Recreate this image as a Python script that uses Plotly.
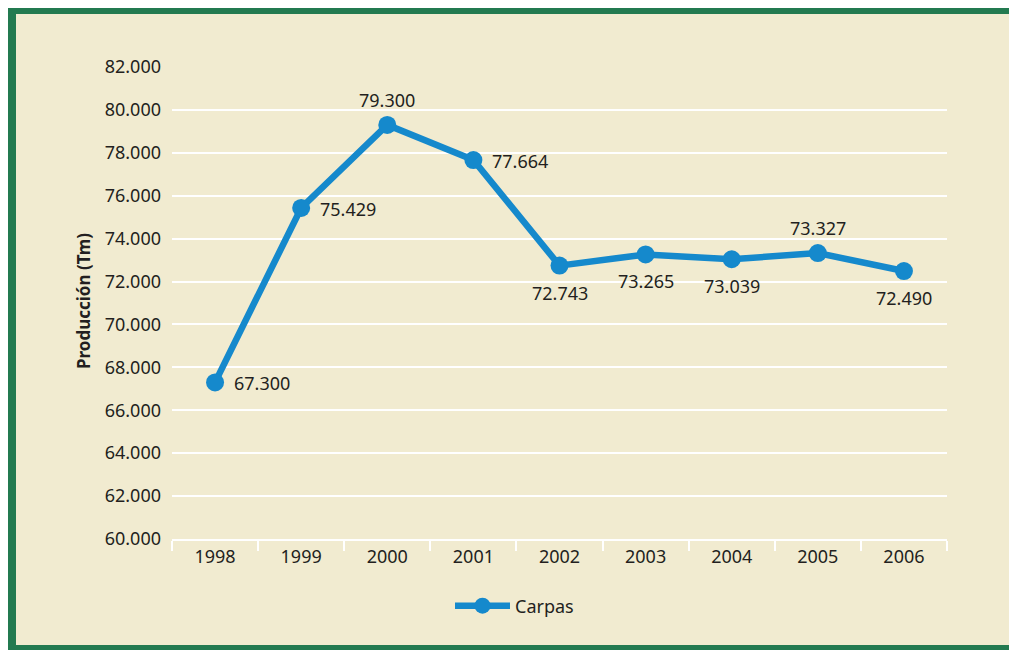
import plotly.graph_objects as go

years = ["1998", "1999", "2000", "2001", "2002", "2003", "2004", "2005", "2006"]
carpas = [67300, 75429, 79300, 77664, 72743, 73265, 73039, 73327, 72490]
label_side = ["right", "right", "top", "right", "bottom", "bottom", "bottom", "top", "bottom"]
y_ticks = [60000, 62000, 64000, 66000, 68000, 70000, 72000, 74000, 76000, 78000, 80000, 82000]

# page is offset by the default 8px body margin
OFF = 8
W, H = 1017 - OFF, 650 - OFF
L, R, T, B = 172 - OFF, 947 - OFF, 67 - OFF, 539 - OFF
pw, ph = R - L, B - T

def px_x(x):
    return (x - OFF - L) / pw

def px_y(y):
    return (B - (y - OFF)) / ph

BG = "#f1ebd0"
BLUE = "#1589cc"
TXT = "#231f20"
FONT = "Noto Sans"

fig = go.Figure()
fig.add_trace(go.Scatter(
    x=years, y=carpas, name="Carpas", mode="lines+markers",
    line=dict(color=BLUE, width=6.5),
    marker=dict(color=BLUE, size=18),
    cliponaxis=False,
))

side_style = {
    "right": dict(xanchor="left", yanchor="middle", xshift=17, yshift=-1),
    "top": dict(xanchor="center", yanchor="middle", xshift=0, yshift=25),
    "bottom": dict(xanchor="center", yanchor="middle", xshift=0, yshift=-27),
}

annotations = []
for i, (v, side) in enumerate(zip(carpas, label_side)):
    annotations.append(dict(
        x=i, y=v, xref="x", yref="y", text=f"{v:,}".replace(",", "."),
        showarrow=False, font=dict(family=FONT, size=18, color=TXT), **side_style[side]))

annotations.append(dict(text="<b>Producción (Tm)</b>", xref="paper", yref="paper",
                        x=px_x(83), y=px_y(301), textangle=-90, showarrow=False,
                        xanchor="center", yanchor="middle",
                        font=dict(family=FONT, size=17, color=TXT)))

fig.update_layout(
    width=W, height=H, autosize=False,
    margin=dict(l=L, r=W - R, t=T, b=H - B, pad=0),
    paper_bgcolor=BG, plot_bgcolor=BG,
    separators=",.",
    font=dict(family=FONT, size=18, color=TXT),
    showlegend=True,
    legend=dict(orientation="h", x=px_x(450), xanchor="left", y=px_y(606), yanchor="middle",
                itemwidth=55, font=dict(family=FONT, size=18, color=TXT),
                bgcolor="rgba(0,0,0,0)"),
    xaxis=dict(type="category", range=[-0.5, len(years) - 0.5],
               showgrid=False, showline=True, linecolor="white", linewidth=2,
               ticks="outside", tickson="boundaries", ticklen=10, tickwidth=2, tickcolor="white",
               tickfont=dict(family=FONT, size=18, color=TXT), zeroline=False,
               automargin=False),
    yaxis=dict(range=[60000, 82000], tickvals=y_ticks, tickformat=",.0f",
               showgrid=True, gridcolor="white", gridwidth=2, zeroline=False,
               showline=False, ticks="", ticklabelstandoff=10, automargin=False,
               tickfont=dict(family=FONT, size=18, color=TXT)),
    annotations=annotations,
    shapes=[dict(type="rect", xref="paper", yref="paper",
                 x0=px_x(12), x1=px_x(1013), y0=px_y(10), y1=px_y(649),
                 line=dict(color="#237a50", width=8), fillcolor="rgba(0,0,0,0)", layer="below")],
)

fig.write_html("out.html")
